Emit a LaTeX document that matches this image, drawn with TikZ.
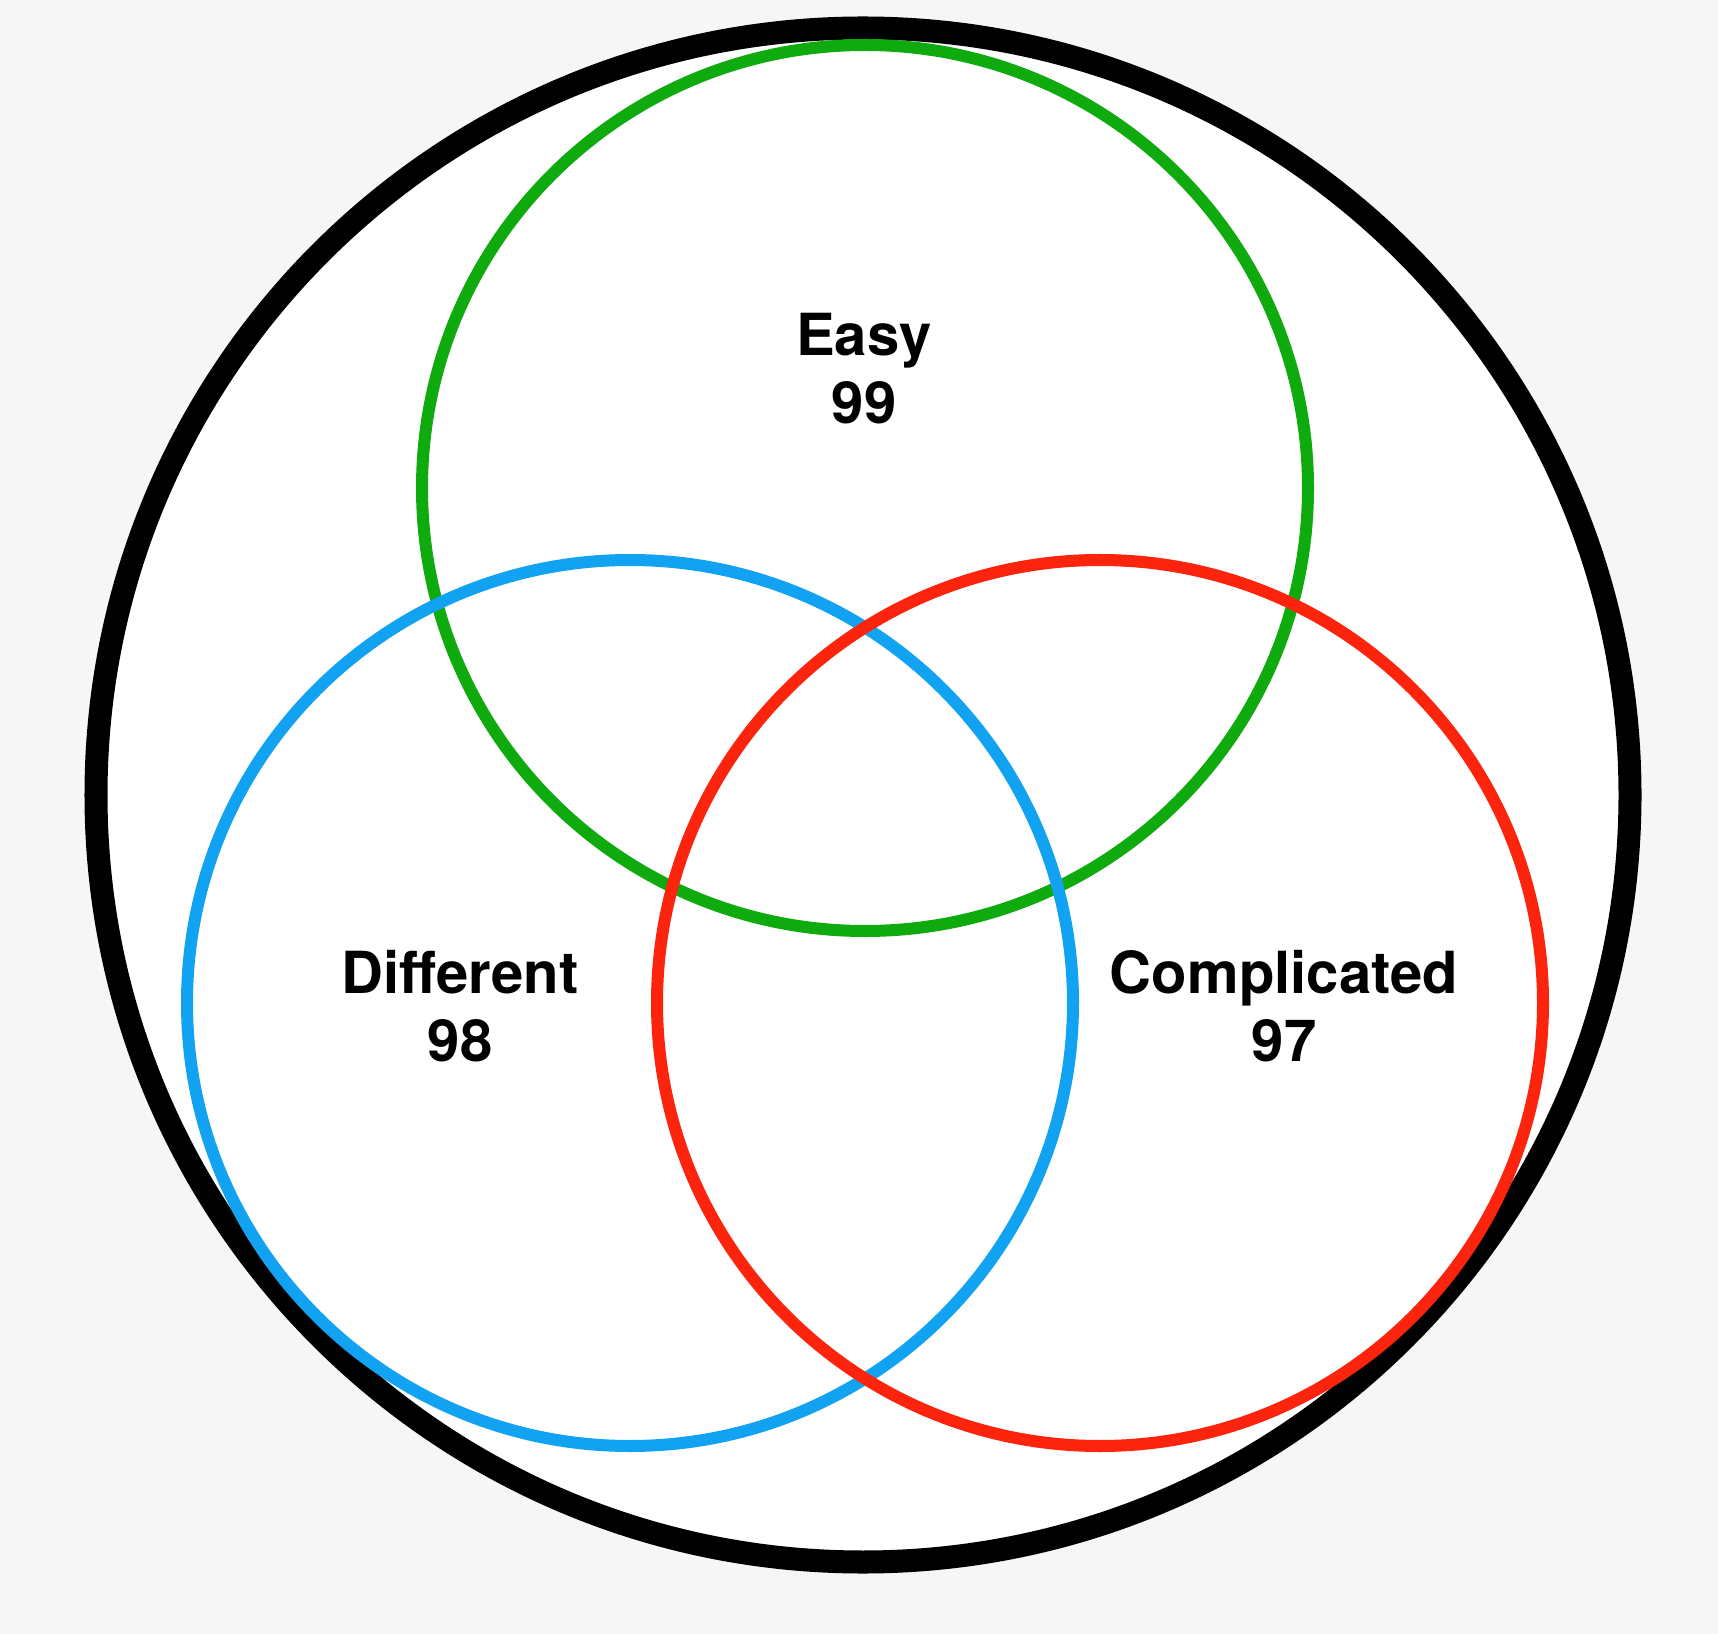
\documentclass[tikz,border=0pt]{standalone}
\usepackage{fontspec}
\setmainfont{TeX Gyre Heros}
\usepackage{xcolor}
\usepackage{tikz}

\definecolor{setgreen}{RGB}{14,170,14}
\definecolor{setblue}{RGB}{18,162,242}
\definecolor{setred}{RGB}{252,36,12}
\definecolor{paper}{RGB}{246,246,246}

\begin{document}
\begin{tikzpicture}[x=0.01cm, y=-0.01cm,
        setline/.style={line width=0.12cm},
        setlabel/.style={align=center, font=\bfseries\fontsize{16.5}{19.4}\selectfont}]
        \useasboundingbox (0, 0) rectangle (1718, 1634);
        \fill[paper] (0, 0) rectangle (1718, 1634);

        % universe
        \filldraw [color = black, fill = white, line width=0.23cm] (863, 795) circle (767);

        % the three sets
        \draw[setline, setgreen] (865, 488) circle (443);
        \draw[setline, setblue] (630, 1003) circle (443);
        \draw[setline, setred] (1100, 1003) circle (443);

        \node[setlabel] (easy) at (864, 369) {Easy\\99};
        \node[setlabel] (different) at (460, 1006) {Different\\98};
        \node[setlabel] (complicated) at (1284, 1006) {Complicated\\97};
\end{tikzpicture}
\end{document}
